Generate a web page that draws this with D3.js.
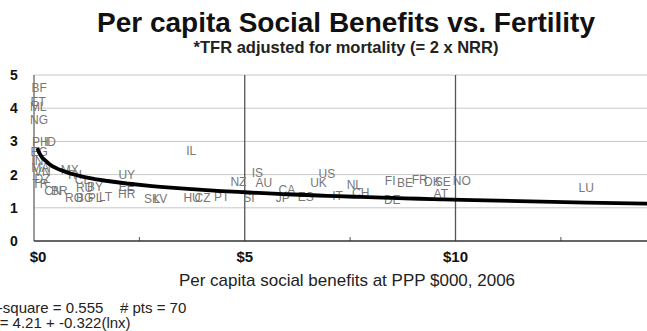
<!DOCTYPE html>
<html>
<head>
<meta charset="utf-8">
<script src="https://cdn.jsdelivr.net/npm/d3@7"></script>
<style>
  body { margin: 0; background: #fff; }
  svg { display: block; font-family: "Liberation Sans", Arial, sans-serif; }
</style>
</head>
<body>
<script>
// country codes, per capita social benefits ($000 PPP) and adjusted TFR
const codes = ['BF','ET','ML','NG','PH','ID','EG','IN','MA','VN','MX','TH','DZ','TR','CN','BR','CL',
  'RU','BY','RO','BG','PL','LT','UY','EE','HR','SK','LV','IL','HU','CZ','PT','NZ','SI','IS','AU',
  'JP','CA','ES','UK','US','IT','NL','CH','FI','DE','BE','FR','DK','SE','AT','NO','LU'];
const benefits = [0.12,0.1,0.1,0.12,0.15,0.38,0.12,0.08,0.15,0.2,0.85,0.95,0.2,0.15,0.45,0.6,1.15,
  1.2,1.45,0.95,1.2,1.45,1.7,2.2,2.2,2.2,2.8,3.0,3.73,3.75,4.0,4.45,4.85,5.1,5.3,5.45,
  5.9,6.0,6.45,6.75,6.95,7.2,7.6,7.75,8.45,8.5,8.8,9.15,9.45,9.7,9.65,10.15,13.1];
const tfr = [4.6,4.2,4.05,3.65,2.98,2.98,2.68,2.42,2.2,2.08,2.15,2.0,1.87,1.72,1.5,1.5,1.85,
  1.6,1.62,1.3,1.3,1.3,1.32,2.0,1.62,1.42,1.28,1.28,2.71,1.3,1.3,1.33,1.78,1.3,2.05,1.76,
  1.3,1.53,1.32,1.75,2.03,1.36,1.69,1.45,1.81,1.25,1.74,1.84,1.78,1.78,1.42,1.81,1.6];

// log fit shown in the footer
const fitA = 4.21, fitB = -0.322;
const rSquare = 0.555, nPts = 70;

const xTicks = [0, 5, 10];
const xTickLabels = ['$0', '$5', '$10'];
const xMinorTicks = [2.5, 7.5, 12.5];
const yTicks = [0, 1, 2, 3, 4, 5];

const W = 647, H = 331;
const x = d3.scaleLinear().domain([0, 15]).range([34, 34 + 15 * 42.15]);
const y = d3.scaleLinear().domain([0, 5]).range([241, 75]);

const svg = d3.select('body').append('svg').attr('width', W).attr('height', H);

// title
svg.append('text').attr('x', 346).attr('y', 32).attr('text-anchor', 'middle')
  .attr('font-size', 28).attr('font-weight', 'bold').attr('fill', '#111')
  .text('Per capita Social Benefits vs. Fertility');
svg.append('text').attr('x', 346).attr('y', 53).attr('text-anchor', 'middle')
  .attr('font-size', 16.5).attr('font-weight', 'bold').attr('fill', '#222')
  .text('*TFR adjusted for mortality (= 2 x NRR)');

// horizontal grid
svg.append('g').selectAll('line').data(yTicks.filter(d => d > 0)).join('line')
  .attr('x1', x(0)).attr('x2', W).attr('y1', d => y(d)).attr('y2', d => y(d))
  .attr('stroke', '#c8c8c8').attr('stroke-width', 1);

// vertical lines at $5 and $10
svg.append('g').selectAll('line').data(xTicks.filter(d => d > 0)).join('line')
  .attr('x1', d => x(d)).attr('x2', d => x(d)).attr('y1', y(5)).attr('y2', y(0))
  .attr('stroke', '#555').attr('stroke-width', 1.3);

// minor ticks on x axis
svg.append('g').selectAll('line').data(xMinorTicks).join('line')
  .attr('x1', d => x(d)).attr('x2', d => x(d)).attr('y1', y(0)).attr('y2', y(0) - 4)
  .attr('stroke', '#555');

// axes
svg.append('line').attr('x1', x(0)).attr('x2', x(0)).attr('y1', y(5)).attr('y2', y(0))
  .attr('stroke', '#666').attr('stroke-width', 1.3);
svg.append('line').attr('x1', x(0)).attr('x2', W).attr('y1', y(0)).attr('y2', y(0))
  .attr('stroke', '#333').attr('stroke-width', 1.5);

svg.append('g').selectAll('text').data(yTicks).join('text')
  .attr('x', 14).attr('y', d => y(d) + 5).attr('text-anchor', 'middle')
  .attr('font-size', 14).attr('font-weight', 'bold').attr('fill', '#111')
  .text(d => d);

svg.append('g').selectAll('text').data(xTicks).join('text')
  .attr('x', (d, i) => x(d) + (i === 0 ? 4 : 0)).attr('y', 262).attr('text-anchor', 'middle')
  .attr('font-size', 15).attr('font-weight', 'bold').attr('fill', '#111')
  .text((d, i) => xTickLabels[i]);

svg.append('text').attr('x', 347).attr('y', 286).attr('text-anchor', 'middle')
  .attr('font-size', 17).attr('fill', '#222')
  .text('Per capita social benefits at PPP $000, 2006');

// country labels
svg.append('g').selectAll('text').data(codes).join('text')
  .attr('x', (d, i) => x(benefits[i])).attr('y', (d, i) => y(tfr[i]) + 4)
  .attr('text-anchor', 'middle').attr('font-size', 12).attr('fill', '#777')
  .text(d => d);

// fitted curve through sorted x values
const fitX = [0.09].concat(benefits.slice().sort((a, b) => a - b), [15]);
const fitPts = fitX.map(v => [v, fitA + fitB * Math.log(v * 1000)]);
svg.append('path').datum(fitPts)
  .attr('d', d3.line().x(d => x(d[0])).y(d => y(d[1])))
  .attr('fill', 'none').attr('stroke', '#000').attr('stroke-width', 3.8);

// footer stats
svg.append('text').attr('x', -13).attr('y', 313).attr('font-size', 15).attr('fill', '#222')
  .attr('xml:space', 'preserve')
  .text(`R-square = ${rSquare}    # pts = ${nPts}`);
svg.append('text').attr('x', -12).attr('y', 328).attr('font-size', 15).attr('fill', '#222')
  .text(`y = ${fitA} + ${fitB}(lnx)`);
</script>
</body>
</html>
